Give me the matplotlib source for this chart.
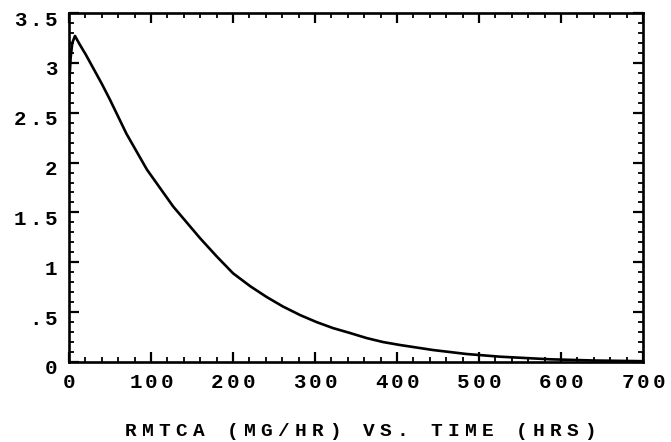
import numpy as np
import matplotlib
matplotlib.use("Agg")
import matplotlib.pyplot as plt
from matplotlib.ticker import MultipleLocator
from matplotlib.transforms import IdentityTransform

# values
time_hrs = [0, 1, 2, 4, 7.3, 12, 17, 20, 30, 40, 50, 70, 95, 127, 160, 180,
            200, 221, 241, 261, 282, 302, 322, 343, 363, 383, 404, 444, 485,
            526, 587, 640, 700]
rmtca = [2.65, 2.9, 3.05, 3.2, 3.27, 3.2, 3.13, 3.09, 2.94, 2.79, 2.63, 2.29,
         1.93, 1.56, 1.24, 1.06, 0.89, 0.76, 0.652, 0.556, 0.47, 0.40, 0.34,
         0.29, 0.24, 0.20, 0.17, 0.12, 0.08, 0.053, 0.027, 0.015, 0.008]

x_ticks = [0, 100, 200, 300, 400, 500, 600, 700]
x_tick_labels = ["0", "100", "200", "300", "400", "500", "600", "700"]
y_ticks = [0, 0.5, 1, 1.5, 2, 2.5, 3, 3.5]
y_tick_labels = ["0", ".5", "1", "1.5", "2", "2.5", "3", "3.5"]
title = "RMTCA (MG/HR) VS. TIME (HRS)"

W, H = 671, 442
fig = plt.figure(figsize=(W / 100, H / 100), dpi=100)
ax = fig.add_axes([69 / W, 1 - 362 / H, 574 / W, 349 / H])

ax.plot(time_hrs, rmtca, color="black", lw=1.9)
ax.set_xlim(0, 700)
ax.set_ylim(0, 3.5)
ax.xaxis.set_major_locator(MultipleLocator(100))
ax.xaxis.set_minor_locator(MultipleLocator(20))
ax.yaxis.set_major_locator(MultipleLocator(0.5))
ax.yaxis.set_minor_locator(MultipleLocator(0.1))
ax.tick_params(which="both", direction="in", top=True, right=True,
               labelbottom=False, labelleft=False, color="black")
ax.tick_params(which="major", length=7, width=1.6)
ax.tick_params(which="minor", length=3.5, width=1.3)
for s in ax.spines.values():
    s.set_linewidth(1.9)

font = dict(family=["Liberation Mono", "DejaVu Sans Mono"], weight="bold",
            color="black")


def spaced(x, y, text, pitch, align="center", size=14):
    # draw text char by char (display pixels) to get the wide letter spacing
    n = len(text)
    if align == "center":
        start = x - (n - 1) / 2 * pitch
    else:
        start = x - (n - 1) * pitch
    for i, ch in enumerate(text):
        if ch == " ":
            continue
        fig.text(start + i * pitch, y, ch, ha="center", va="center",
                 fontsize=size, transform=IdentityTransform(), **font)


for v, lab in zip(x_ticks, x_tick_labels):
    px, _ = ax.transData.transform((v, 0))
    spaced(px, H - 383, lab, 15.5, size=15)

for v, lab in zip(y_ticks, y_tick_labels):
    _, py = ax.transData.transform((0, v))
    spaced(51, py - 7, lab, 15.5, align="right", size=15)

spaced(360, H - 432, title, 17, size=14)

fig.savefig("out.png", dpi=100)
